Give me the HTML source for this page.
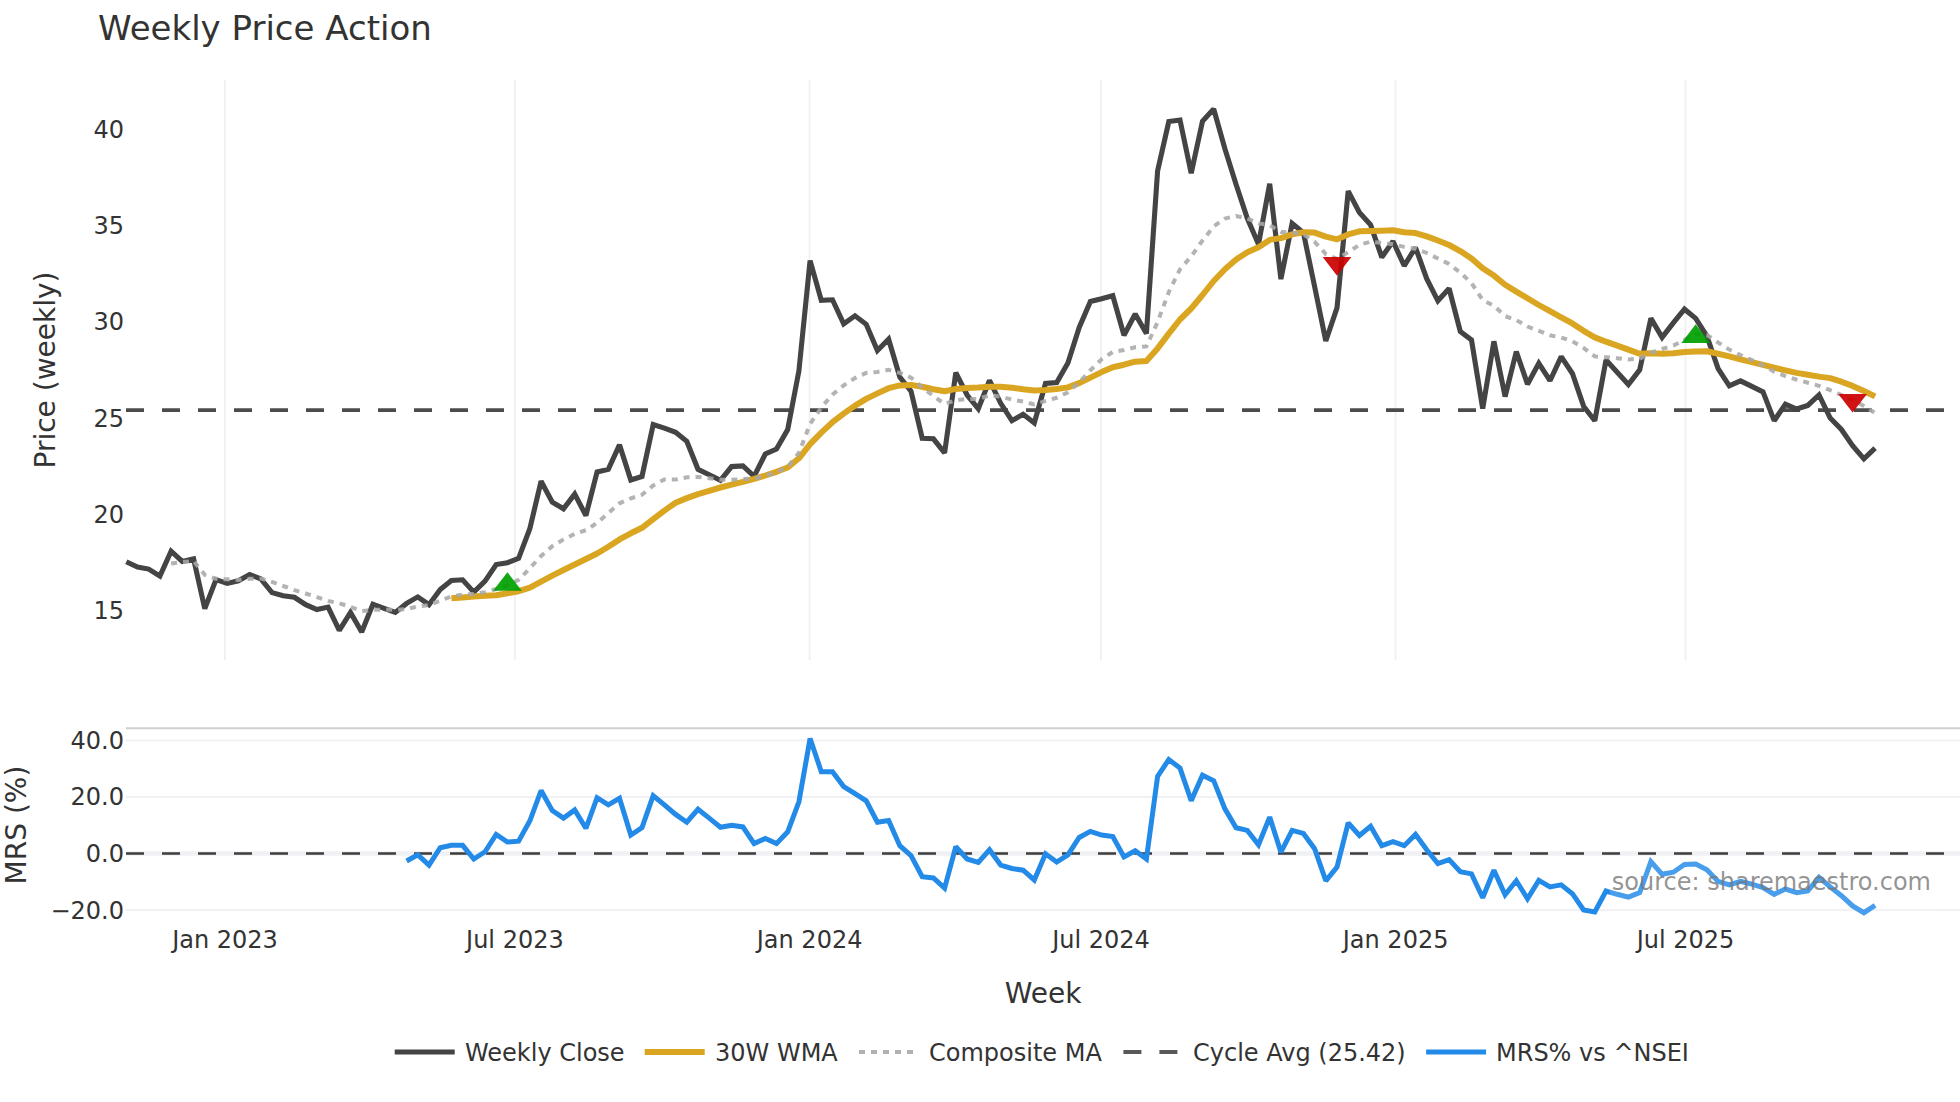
<!DOCTYPE html>
<html lang="en"><head><meta charset="utf-8"><title>Weekly Price Action</title>
<style>html,body{margin:0;padding:0;background:#fff}body{width:1960px;height:1102px;overflow:hidden}</style>
</head><body>
<svg width="1960" height="1102" viewBox="0 0 1960 1102" style="display:block;font-family:'DejaVu Sans','Liberation Sans',sans-serif">
<rect width="1960" height="1102" fill="#fff"/>
<line x1="225.0" y1="80" x2="225.0" y2="660" stroke="#f1f1f4" stroke-width="2"/>
<line x1="514.9" y1="80" x2="514.9" y2="660" stroke="#f1f1f4" stroke-width="2"/>
<line x1="809.6" y1="80" x2="809.6" y2="660" stroke="#f1f1f4" stroke-width="2"/>
<line x1="1101.0" y1="80" x2="1101.0" y2="660" stroke="#f1f1f4" stroke-width="2"/>
<line x1="1395.6" y1="80" x2="1395.6" y2="660" stroke="#f1f1f4" stroke-width="2"/>
<line x1="1685.5" y1="80" x2="1685.5" y2="660" stroke="#f1f1f4" stroke-width="2"/>
<line x1="126" y1="740.6" x2="1960" y2="740.6" stroke="#f1f1f4" stroke-width="2"/>
<line x1="126" y1="797" x2="1960" y2="797" stroke="#f1f1f4" stroke-width="2"/>
<line x1="126" y1="910" x2="1960" y2="910" stroke="#f1f1f4" stroke-width="2"/>
<line x1="126" y1="853.5" x2="1960" y2="853.5" stroke="#f0f1f5" stroke-width="4.4"/>
<line x1="126" y1="728.2" x2="1960" y2="728.2" stroke="#cfcfcf" stroke-width="2"/>
<line x1="126" y1="410.1" x2="1960" y2="410.1" stroke="#4c4c4c" stroke-width="3.8" stroke-dasharray="18,18"/>
<path d="M126.3,561.8 L137.5,567.1 L148.7,569.1 L159.9,576.1 L171.1,551.2 L182.3,561.4 L193.6,558.9 L204.8,608.7 L216.0,579.7 L227.2,583.4 L238.4,580.8 L249.6,574.6 L260.8,578.9 L272.0,592.6 L283.2,595.7 L294.4,597.3 L305.7,604.7 L316.9,609.6 L328.1,607.1 L339.3,630.4 L350.5,612.4 L361.7,632.0 L372.9,604.2 L384.1,608.3 L395.3,612.4 L406.6,603.4 L417.8,596.9 L429.0,604.7 L440.2,589.5 L451.4,580.5 L462.6,579.8 L473.8,592.1 L485.0,581.1 L496.2,564.5 L507.4,562.7 L518.6,558.4 L529.9,528.4 L541.1,481.2 L552.3,502.1 L563.5,508.8 L574.7,494.1 L585.9,515.5 L597.1,471.9 L608.3,469.4 L619.5,444.9 L630.8,480.0 L642.0,476.4 L653.2,424.5 L664.4,428.2 L675.6,432.3 L686.8,441.2 L698.0,469.3 L709.2,474.8 L720.4,480.4 L731.6,466.6 L742.9,465.9 L754.1,476.4 L765.3,454.0 L776.5,449.1 L787.7,429.5 L798.9,370.9 L810.1,260.6 L821.3,300.4 L832.5,299.8 L843.7,323.9 L855.0,315.8 L866.2,324.3 L877.4,350.5 L888.6,339.2 L899.8,377.0 L911.0,391.1 L922.2,438.2 L933.4,438.8 L944.6,452.9 L955.8,372.7 L967.1,395.0 L978.3,408.8 L989.5,380.4 L1000.7,403.3 L1011.9,420.7 L1023.1,414.3 L1034.3,422.9 L1045.5,383.5 L1056.7,382.5 L1067.9,362.9 L1079.2,327.4 L1090.4,301.5 L1101.6,298.8 L1112.8,295.7 L1124.0,335.2 L1135.2,314.0 L1146.4,333.6 L1157.6,170.9 L1168.8,121.6 L1180.0,120.0 L1191.2,173.3 L1202.5,121.2 L1213.7,109.0 L1224.9,148.8 L1236.1,184.5 L1247.3,218.3 L1258.5,244.2 L1269.7,183.7 L1280.9,279.1 L1292.1,223.4 L1303.4,232.6 L1314.6,286.5 L1325.8,341.0 L1337.0,307.9 L1348.2,191.1 L1359.4,212.5 L1370.6,224.8 L1381.8,257.3 L1393.0,241.3 L1404.2,265.8 L1415.5,247.5 L1426.7,278.7 L1437.9,300.8 L1449.1,288.5 L1460.3,331.4 L1471.5,340.0 L1482.7,408.7 L1493.9,341.3 L1505.1,396.6 L1516.3,351.5 L1527.5,384.2 L1538.8,363.3 L1550.0,380.7 L1561.2,356.6 L1572.4,373.5 L1583.6,406.2 L1594.8,420.7 L1606.0,360.0 L1617.2,372.3 L1628.4,384.5 L1639.7,369.8 L1650.9,318.4 L1662.1,337.4 L1673.3,322.9 L1684.5,309.2 L1695.7,318.4 L1706.9,336.1 L1718.1,368.6 L1729.3,385.8 L1740.5,380.9 L1751.8,386.4 L1763.0,391.9 L1774.2,420.7 L1785.4,404.1 L1796.6,409.0 L1807.8,405.4 L1819.0,394.9 L1830.2,418.0 L1841.4,429.5 L1852.6,445.7 L1863.9,458.9 L1875.1,448.1" fill="none" stroke="#444" stroke-width="5.1" stroke-linejoin="miter" stroke-miterlimit="2"/>
<path d="M451.4,598.2 L462.6,597.4 L473.8,596.4 L485.0,595.8 L496.2,595.2 L507.4,593.3 L518.6,591.2 L529.9,587.6 L541.1,581.7 L552.3,575.6 L563.5,570.0 L574.7,564.5 L585.9,559.0 L597.1,553.5 L608.3,546.8 L619.5,539.4 L630.8,533.3 L642.0,527.8 L653.2,519.2 L664.4,510.6 L675.6,502.7 L686.8,498.1 L698.0,494.1 L709.2,490.8 L720.4,487.5 L731.6,484.6 L742.9,481.8 L754.1,478.9 L765.3,475.5 L776.5,471.8 L787.7,467.5 L798.9,458.3 L810.1,444.2 L821.3,432.6 L832.5,422.2 L843.7,413.6 L855.0,405.6 L866.2,398.9 L877.4,393.4 L888.6,388.2 L899.8,385.4 L911.0,384.9 L922.2,386.8 L933.4,389.2 L944.6,391.3 L955.8,388.9 L967.1,388.0 L978.3,387.6 L989.5,386.8 L1000.7,386.8 L1011.9,387.7 L1023.1,389.2 L1034.3,390.4 L1045.5,390.1 L1056.7,389.0 L1067.9,387.4 L1079.2,383.1 L1090.4,377.6 L1101.6,372.1 L1112.8,367.2 L1124.0,364.7 L1135.2,361.7 L1146.4,361.1 L1157.6,348.4 L1168.8,333.6 L1180.0,319.5 L1191.2,308.5 L1202.5,295.0 L1213.7,281.0 L1224.9,269.3 L1236.1,259.5 L1247.3,252.2 L1258.5,247.3 L1269.7,239.9 L1280.9,238.1 L1292.1,234.4 L1303.4,232.2 L1314.6,232.6 L1325.8,236.6 L1337.0,239.3 L1348.2,234.4 L1359.4,231.3 L1370.6,230.9 L1381.8,230.7 L1393.0,230.3 L1404.2,232.2 L1415.5,233.1 L1426.7,236.4 L1437.9,240.5 L1449.1,245.0 L1460.3,251.1 L1471.5,258.5 L1482.7,268.3 L1493.9,275.6 L1505.1,284.8 L1516.3,291.6 L1527.5,298.3 L1538.8,305.0 L1550.0,311.2 L1561.2,317.3 L1572.4,323.4 L1583.6,330.8 L1594.8,337.4 L1606.0,341.7 L1617.2,345.6 L1628.4,349.6 L1639.7,353.7 L1650.9,353.3 L1662.1,353.7 L1673.3,353.3 L1684.5,352.1 L1695.7,351.5 L1706.9,351.2 L1718.1,353.7 L1729.3,356.4 L1740.5,359.4 L1751.8,362.2 L1763.0,364.9 L1774.2,367.7 L1785.4,370.4 L1796.6,372.9 L1807.8,374.7 L1819.0,376.6 L1830.2,378.1 L1841.4,381.7 L1852.6,385.9 L1863.9,391.0 L1875.1,396.4" fill="none" stroke="#daa520" stroke-width="6" stroke-linejoin="round"/>
<path d="M171.1,563.5 L182.3,562.1 L193.6,560.9 L204.8,574.8 L216.0,578.8 L227.2,579.3 L238.4,579.9 L249.6,578.8 L260.8,578.4 L272.0,581.9 L283.2,586.0 L294.4,590.1 L305.7,593.5 L316.9,597.2 L328.1,600.9 L339.3,603.3 L350.5,607.0 L361.7,611.1 L372.9,609.9 L384.1,609.5 L395.3,609.9 L406.6,609.1 L417.8,606.4 L429.0,605.0 L440.2,600.7 L451.4,596.4 L462.6,594.5 L473.8,593.9 L485.0,592.1 L496.2,589.0 L507.4,585.4 L518.6,579.8 L529.9,568.2 L541.1,556.0 L552.3,546.2 L563.5,539.4 L574.7,533.9 L585.9,530.2 L597.1,522.9 L608.3,513.1 L619.5,503.3 L630.8,498.4 L642.0,494.7 L653.2,485.5 L664.4,479.4 L675.6,479.6 L686.8,477.3 L698.0,476.9 L709.2,478.2 L720.4,479.7 L731.6,479.7 L742.9,479.1 L754.1,478.5 L765.3,475.7 L776.5,472.4 L787.7,466.9 L798.9,452.8 L810.1,424.0 L821.3,407.5 L832.5,394.6 L843.7,385.4 L855.0,378.1 L866.2,372.9 L877.4,371.9 L888.6,369.9 L899.8,372.9 L911.0,377.6 L922.2,387.4 L933.4,396.0 L944.6,403.9 L955.8,400.2 L967.1,399.0 L978.3,399.0 L989.5,395.3 L1000.7,396.6 L1011.9,399.6 L1023.1,401.5 L1034.3,404.5 L1045.5,400.9 L1056.7,397.8 L1067.9,392.3 L1079.2,382.5 L1090.4,370.2 L1101.6,359.2 L1112.8,351.9 L1124.0,350.0 L1135.2,347.2 L1146.4,346.4 L1157.6,322.0 L1168.8,292.0 L1180.0,269.3 L1191.2,256.5 L1202.5,240.5 L1213.7,226.4 L1224.9,218.5 L1236.1,216.0 L1247.3,218.5 L1258.5,223.4 L1269.7,225.2 L1280.9,232.0 L1292.1,232.6 L1303.4,234.4 L1314.6,241.8 L1325.8,254.0 L1337.0,258.9 L1348.2,252.2 L1359.4,244.8 L1370.6,241.7 L1381.8,242.9 L1393.0,244.2 L1404.2,246.9 L1415.5,248.7 L1426.7,253.0 L1437.9,258.5 L1449.1,264.0 L1460.3,272.6 L1471.5,283.0 L1482.7,300.1 L1493.9,305.7 L1505.1,316.1 L1516.3,320.1 L1527.5,326.5 L1538.8,330.8 L1550.0,335.3 L1561.2,337.5 L1572.4,341.2 L1583.6,347.9 L1594.8,356.4 L1606.0,357.3 L1617.2,358.2 L1628.4,359.4 L1639.7,358.8 L1650.9,352.7 L1662.1,349.0 L1673.3,345.6 L1684.5,339.9 L1695.7,334.1 L1706.9,335.0 L1718.1,342.5 L1729.3,349.6 L1740.5,355.1 L1751.8,360.0 L1763.0,365.5 L1774.2,371.7 L1785.4,376.0 L1796.6,379.6 L1807.8,382.7 L1819.0,385.8 L1830.2,390.2 L1841.4,395.0 L1852.6,400.0 L1863.9,406.0 L1875.1,413.0" fill="none" stroke="#a9a9a9" stroke-opacity="0.88" stroke-width="4" stroke-dasharray="6,6"/>
<path d="M493.1,590.8H521.8L507.4,572.2Z" fill="#00a000" fill-opacity="0.92"/>
<path d="M1681.4,342.9H1710.0L1695.7,324.3Z" fill="#00a000" fill-opacity="0.92"/>
<path d="M1322.7,257.1H1351.3L1337.0,275.7Z" fill="#cc0000" fill-opacity="0.92"/>
<path d="M1838.3,394.0H1867.0L1852.6,412.6Z" fill="#cc0000" fill-opacity="0.92"/>
<line x1="126" y1="853.5" x2="1960" y2="853.5" stroke="#3c3c3c" stroke-width="2.4" stroke-dasharray="18,18"/>
<path d="M406.6,861.0 L417.8,854.9 L429.0,865.1 L440.2,847.7 L451.4,845.3 L462.6,845.3 L473.8,859.0 L485.0,851.8 L496.2,834.4 L507.4,842.0 L518.6,841.2 L529.9,820.8 L541.1,790.5 L552.3,810.6 L563.5,818.1 L574.7,809.9 L585.9,828.3 L597.1,797.7 L608.3,804.8 L619.5,798.3 L630.8,835.1 L642.0,827.7 L653.2,795.7 L664.4,804.8 L675.6,814.4 L686.8,822.2 L698.0,809.3 L709.2,818.1 L720.4,827.3 L731.6,825.3 L742.9,826.9 L754.1,843.6 L765.3,838.5 L776.5,843.6 L787.7,831.8 L798.9,801.8 L810.1,738.5 L821.3,771.8 L832.5,771.8 L843.7,786.5 L855.0,793.6 L866.2,800.8 L877.4,822.2 L888.6,820.6 L899.8,845.7 L911.0,855.5 L922.2,876.7 L933.4,877.9 L944.6,888.1 L955.8,846.7 L967.1,859.0 L978.3,862.4 L989.5,849.8 L1000.7,865.1 L1011.9,868.5 L1023.1,870.2 L1034.3,880.0 L1045.5,853.8 L1056.7,862.0 L1067.9,854.9 L1079.2,837.5 L1090.4,831.4 L1101.6,835.1 L1112.8,836.5 L1124.0,856.9 L1135.2,850.8 L1146.4,859.0 L1157.6,776.3 L1168.8,759.5 L1180.0,768.1 L1191.2,800.8 L1202.5,775.2 L1213.7,780.7 L1224.9,808.9 L1236.1,827.7 L1247.3,830.4 L1258.5,844.7 L1269.7,817.1 L1280.9,852.2 L1292.1,830.4 L1303.4,833.4 L1314.6,848.7 L1325.8,880.8 L1337.0,867.1 L1348.2,822.8 L1359.4,835.5 L1370.6,826.3 L1381.8,845.7 L1393.0,841.6 L1404.2,845.7 L1415.5,834.4 L1426.7,849.8 L1437.9,863.6 L1449.1,859.6 L1460.3,871.8 L1471.5,873.9 L1482.7,897.7 L1493.9,870.2 L1505.1,894.7 L1516.3,880.8 L1527.5,898.8 L1538.8,880.4 L1550.0,886.9 L1561.2,884.9 L1572.4,893.7 L1583.6,910.0 L1594.8,912.0 L1606.0,891.0 L1617.2,894.3 L1628.4,897.1 L1639.7,892.6 L1650.9,861.6 L1662.1,874.3 L1673.3,872.2 L1684.5,864.5 L1695.7,864.1 L1706.9,869.8 L1718.1,881.4 L1729.3,884.9 L1740.5,881.4 L1751.8,884.1 L1763.0,887.5 L1774.2,894.3 L1785.4,889.0 L1796.6,892.6 L1807.8,891.0 L1819.0,877.3 L1830.2,886.9 L1841.4,895.7 L1852.6,905.9 L1863.9,912.7 L1875.1,905.3" fill="none" stroke="#248ae8" stroke-width="5" stroke-linejoin="miter" stroke-miterlimit="2"/>
<rect x="1610" y="856" width="324" height="64" fill="#fff" fill-opacity="0.17"/>
<text x="1931" y="890" font-size="24" text-anchor="end" fill="#777" fill-opacity="0.8">source: sharemaestro.com</text>
<text x="98" y="40" font-size="34" fill="#333">Weekly Price Action</text>
<text x="124" y="138" font-size="24" text-anchor="end" fill="#333">40</text>
<text x="124" y="234.2" font-size="24" text-anchor="end" fill="#333">35</text>
<text x="124" y="330.4" font-size="24" text-anchor="end" fill="#333">30</text>
<text x="124" y="426.6" font-size="24" text-anchor="end" fill="#333">25</text>
<text x="124" y="522.8" font-size="24" text-anchor="end" fill="#333">20</text>
<text x="124" y="619" font-size="24" text-anchor="end" fill="#333">15</text>
<text x="124" y="748.9" font-size="24" text-anchor="end" fill="#333">40.0</text>
<text x="124" y="805.3" font-size="24" text-anchor="end" fill="#333">20.0</text>
<text x="124" y="861.9" font-size="24" text-anchor="end" fill="#333">0.0</text>
<text x="124" y="918.9" font-size="24" text-anchor="end" fill="#333">−20.0</text>
<text x="225.0" y="948" font-size="24" text-anchor="middle" fill="#333">Jan 2023</text>
<text x="514.9" y="948" font-size="24" text-anchor="middle" fill="#333">Jul 2023</text>
<text x="809.6" y="948" font-size="24" text-anchor="middle" fill="#333">Jan 2024</text>
<text x="1101.0" y="948" font-size="24" text-anchor="middle" fill="#333">Jul 2024</text>
<text x="1395.6" y="948" font-size="24" text-anchor="middle" fill="#333">Jan 2025</text>
<text x="1685.5" y="948" font-size="24" text-anchor="middle" fill="#333">Jul 2025</text>
<text x="1043" y="1002.9" font-size="28" text-anchor="middle" fill="#333">Week</text>
<text transform="translate(55,370) rotate(-90)" font-size="28" text-anchor="middle" fill="#333">Price (weekly)</text>
<text transform="translate(26,825) rotate(-90)" font-size="28" text-anchor="middle" fill="#333">MRS (%)</text>
<line x1="394.7" y1="1052" x2="454.7" y2="1052" stroke="#444" stroke-width="5.1"/>
<text x="465" y="1061" font-size="24" fill="#333">Weekly Close</text>
<line x1="644.7" y1="1052" x2="704.7" y2="1052" stroke="#daa520" stroke-width="6"/>
<text x="715" y="1061" font-size="24" fill="#333">30W WMA</text>
<line x1="859" y1="1052" x2="919" y2="1052" stroke="#b1b1b1" stroke-width="4" stroke-dasharray="6,6"/>
<text x="929" y="1061" font-size="24" fill="#333">Composite MA</text>
<line x1="1123.4" y1="1052" x2="1183.4" y2="1052" stroke="#585858" stroke-width="3.8" stroke-dasharray="18,18"/>
<text x="1193" y="1061" font-size="24" fill="#333">Cycle Avg (25.42)</text>
<line x1="1426.1" y1="1052" x2="1486.1" y2="1052" stroke="#248ae8" stroke-width="5"/>
<text x="1496" y="1061" font-size="24" fill="#333">MRS% vs ^NSEI</text>
</svg>
</body></html>
